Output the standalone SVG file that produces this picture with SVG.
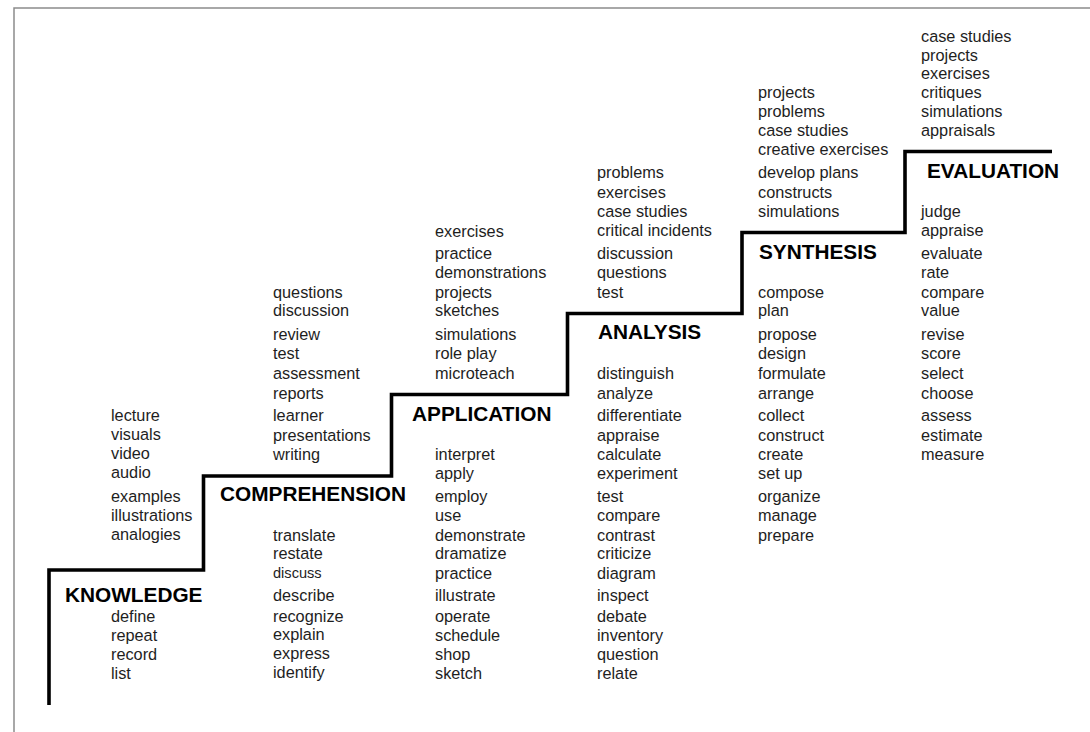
<svg xmlns="http://www.w3.org/2000/svg" width="1090" height="732" viewBox="0 0 1090 732">
<style>
.item{font-family:"Liberation Sans",Arial,sans-serif;font-size:16.3px;fill:#1e1e1e}
.small{font-size:14.6px}
.head{font-family:"Liberation Sans",Arial,sans-serif;font-size:20.8px;font-weight:bold;fill:#000}
.frame{fill:none;stroke:#8c8c8c;stroke-width:1.5}
.stair{fill:none;stroke:#000;stroke-width:3.6;stroke-linejoin:miter;stroke-linecap:butt}
</style>
<rect width="1090" height="732" fill="#fff"/>
<path class="frame" d="M14,732 V8 H1090"/>
<g id="connectors">
<path class="stair" d="M49,705 V570 H203.5 V476 H391.5 V394.5 H567.5 V313.5 H742 V232.5 H905 V151.5 H1052"/>
</g>
<g id="knowledge">
<text class="head" x="65" y="601.5">KNOWLEDGE</text>
<text class="item"><tspan x="111" y="420.7">lecture</tspan><tspan x="111" y="440">visuals</tspan><tspan x="111" y="459.3">video</tspan><tspan x="111" y="478.3">audio</tspan><tspan x="111" y="501.7">examples</tspan><tspan x="111" y="520.7">illustrations</tspan><tspan x="111" y="540">analogies</tspan><tspan x="111" y="621.7">define</tspan><tspan x="111" y="640.7">repeat</tspan><tspan x="111" y="660">record</tspan><tspan x="111" y="679">list</tspan></text>
</g>
<g id="comprehension">
<text class="head" x="220" y="501">COMPREHENSION</text>
<text class="item"><tspan x="273" y="298.3">questions</tspan><tspan x="273" y="316">discussion</tspan><tspan x="273" y="340">review</tspan><tspan x="273" y="359.3">test</tspan><tspan x="273" y="379">assessment</tspan><tspan x="273" y="399">reports</tspan><tspan x="273" y="421">learner</tspan><tspan x="273" y="440.7">presentations</tspan><tspan x="273" y="460">writing</tspan><tspan x="273" y="540.7">translate</tspan><tspan x="273" y="559.3">restate</tspan><tspan x="273" y="578.3" class="small">discuss</tspan><tspan x="273" y="600.7">describe</tspan><tspan x="273" y="621.7">recognize</tspan><tspan x="273" y="640">explain</tspan><tspan x="273" y="659.3">express</tspan><tspan x="273" y="678.3">identify</tspan></text>
</g>
<g id="application">
<text class="head" x="412" y="420.5">APPLICATION</text>
<text class="item"><tspan x="435" y="237">exercises</tspan><tspan x="435" y="259">practice</tspan><tspan x="435" y="278">demonstrations</tspan><tspan x="435" y="298">projects</tspan><tspan x="435" y="316">sketches</tspan><tspan x="435" y="340">simulations</tspan><tspan x="435" y="359">role play</tspan><tspan x="435" y="379">microteach</tspan><tspan x="435" y="460">interpret</tspan><tspan x="435" y="479">apply</tspan><tspan x="435" y="502">employ</tspan><tspan x="435" y="521">use</tspan><tspan x="435" y="540.7">demonstrate</tspan><tspan x="435" y="559.3">dramatize</tspan><tspan x="435" y="579">practice</tspan><tspan x="435" y="601">illustrate</tspan><tspan x="435" y="621.7">operate</tspan><tspan x="435" y="640.5">schedule</tspan><tspan x="435" y="660">shop</tspan><tspan x="435" y="679">sketch</tspan></text>
</g>
<g id="analysis">
<text class="head" x="598" y="339">ANALYSIS</text>
<text class="item"><tspan x="597" y="178">problems</tspan><tspan x="597" y="198">exercises</tspan><tspan x="597" y="217">case studies</tspan><tspan x="597" y="236">critical incidents</tspan><tspan x="597" y="259">discussion</tspan><tspan x="597" y="278">questions</tspan><tspan x="597" y="298">test</tspan><tspan x="597" y="379">distinguish</tspan><tspan x="597" y="399">analyze</tspan><tspan x="597" y="421">differentiate</tspan><tspan x="597" y="440.5">appraise</tspan><tspan x="597" y="460">calculate</tspan><tspan x="597" y="479">experiment</tspan><tspan x="597" y="502">test</tspan><tspan x="597" y="521">compare</tspan><tspan x="597" y="540.7">contrast</tspan><tspan x="597" y="559.3">criticize</tspan><tspan x="597" y="579">diagram</tspan><tspan x="597" y="601">inspect</tspan><tspan x="597" y="621.7">debate</tspan><tspan x="597" y="640.5">inventory</tspan><tspan x="597" y="660">question</tspan><tspan x="597" y="679">relate</tspan></text>
</g>
<g id="synthesis">
<text class="head" x="759" y="258.5">SYNTHESIS</text>
<text class="item"><tspan x="758" y="98">projects</tspan><tspan x="758" y="117">problems</tspan><tspan x="758" y="136">case studies</tspan><tspan x="758" y="155">creative exercises</tspan><tspan x="758" y="178">develop plans</tspan><tspan x="758" y="198">constructs</tspan><tspan x="758" y="217">simulations</tspan><tspan x="758" y="298">compose</tspan><tspan x="758" y="316">plan</tspan><tspan x="758" y="340">propose</tspan><tspan x="758" y="359">design</tspan><tspan x="758" y="379">formulate</tspan><tspan x="758" y="399">arrange</tspan><tspan x="758" y="421">collect</tspan><tspan x="758" y="440.5">construct</tspan><tspan x="758" y="460">create</tspan><tspan x="758" y="479">set up</tspan><tspan x="758" y="502">organize</tspan><tspan x="758" y="521">manage</tspan><tspan x="758" y="540.7">prepare</tspan></text>
</g>
<g id="evaluation">
<text class="head" x="927" y="177.5">EVALUATION</text>
<text class="item"><tspan x="921" y="42">case studies</tspan><tspan x="921" y="61">projects</tspan><tspan x="921" y="79">exercises</tspan><tspan x="921" y="98">critiques</tspan><tspan x="921" y="117">simulations</tspan><tspan x="921" y="136">appraisals</tspan><tspan x="921" y="217">judge</tspan><tspan x="921" y="236">appraise</tspan><tspan x="921" y="259">evaluate</tspan><tspan x="921" y="278">rate</tspan><tspan x="921" y="298">compare</tspan><tspan x="921" y="316">value</tspan><tspan x="921" y="340">revise</tspan><tspan x="921" y="359">score</tspan><tspan x="921" y="379">select</tspan><tspan x="921" y="399">choose</tspan><tspan x="921" y="421">assess</tspan><tspan x="921" y="440.5">estimate</tspan><tspan x="921" y="460">measure</tspan></text>
</g>
</svg>
